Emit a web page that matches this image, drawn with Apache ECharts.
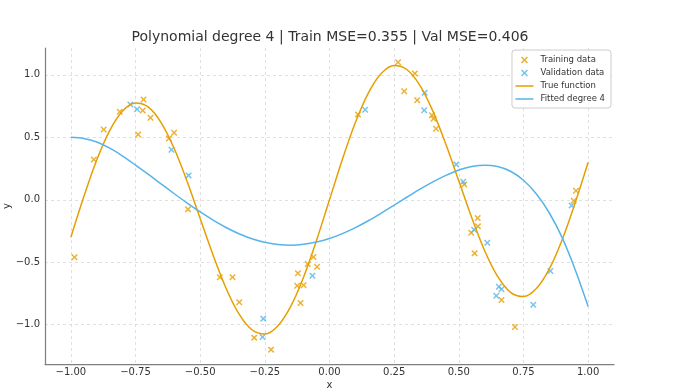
<!DOCTYPE html>
<html>
<head>
<meta charset="utf-8">
<script src="https://cdn.jsdelivr.net/npm/echarts@6/dist/echarts.min.js"></script>
<style>html,body{margin:0;padding:0;background:#fff}#c{width:680px;height:390px}</style>
</head>
<body>
<div id="c"></div>
<script>
const titleText = 'Polynomial degree 4 | Train MSE=0.355 | Val MSE=0.406';
const trainX = [-0.986,-0.911,-0.873,-0.811,-0.740,-0.722,-0.719,-0.692,-0.621,-0.601,-0.547,-0.424,-0.375,-0.349,-0.291,-0.226,-0.125,-0.122,-0.112,-0.100,-0.084,-0.062,-0.048,0.110,0.265,0.289,0.330,0.339,0.396,0.402,0.412,0.521,0.548,0.561,0.573,0.574,0.665,0.717,0.944,0.953];
const trainY = [-0.461,0.322,0.563,0.704,0.523,0.715,0.802,0.656,0.491,0.536,-0.077,-0.621,-0.621,-0.821,-1.104,-1.200,-0.688,-0.589,-0.827,-0.685,-0.515,-0.459,-0.536,0.683,1.101,0.869,1.011,0.797,0.677,0.648,0.568,0.123,-0.264,-0.429,-0.147,-0.213,-0.803,-1.019,-0.008,0.072];
const valX = [-0.770,-0.744,-0.611,-0.545,-0.259,-0.256,-0.066,0.138,0.368,0.366,0.490,0.517,0.559,0.610,0.645,0.655,0.665,0.788,0.854,0.936];
const valY = [0.763,0.725,0.400,0.195,-1.099,-0.952,-0.608,0.720,0.856,0.717,0.283,0.144,-0.240,-0.344,-0.768,-0.696,-0.717,-0.840,-0.571,-0.046];
const curveX = [-1.00,-0.95,-0.90,-0.85,-0.80,-0.75,-0.70,-0.65,-0.60,-0.55,-0.50,-0.45,-0.40,-0.35,-0.30,-0.25,-0.20,-0.15,-0.10,-0.05,0.00,0.05,0.10,0.15,0.20,0.25,0.30,0.35,0.40,0.45,0.50,0.55,0.60,0.65,0.70,0.75,0.80,0.85,0.90,0.95,1.00];
const trueY = [-0.300,0.024,0.318,0.554,0.711,0.775,0.741,0.614,0.408,0.144,-0.150,-0.444,-0.708,-0.914,-1.041,-1.075,-1.011,-0.854,-0.618,-0.324,0.000,0.324,0.618,0.854,1.011,1.075,1.041,0.914,0.708,0.444,0.150,-0.144,-0.408,-0.614,-0.741,-0.775,-0.711,-0.554,-0.318,-0.024,0.300];
const fitY = [0.500,0.490,0.462,0.413,0.350,0.278,0.203,0.125,0.048,-0.027,-0.098,-0.163,-0.222,-0.272,-0.312,-0.341,-0.358,-0.364,-0.357,-0.339,-0.310,-0.271,-0.223,-0.168,-0.107,-0.043,0.022,0.085,0.143,0.195,0.238,0.266,0.277,0.266,0.228,0.156,0.046,-0.106,-0.305,-0.560,-0.855];
const xTicks = [-1.0,-0.75,-0.5,-0.25,0.0,0.25,0.5,0.75,1.0];
const yTicks = [-1.0,-0.5,0.0,0.5,1.0];

const ORANGE = '#E69F00', BLUE = '#56B4E9';
const FONT = 'DejaVu Sans';
const XSYM = 'path://M0,1.6 L1.6,0 L5,3.4 L8.4,0 L10,1.6 L6.6,5 L10,8.4 L8.4,10 L5,6.6 L1.6,10 L0,8.4 L3.4,5 Z';
const LSYM = 'path://M0,0 L18,0 L18,1.5 L0,1.5 Z';
const fmt = d => v => (v < 0 ? '\u2212' : '') + Math.abs(v).toFixed(d);
const zip = (a, b) => a.map((v, i) => [v, b[i]]);

const chart = echarts.init(document.getElementById('c'), null, {renderer: 'canvas'});
const axisCommon = {
  axisLine: {show: true, onZero: false, lineStyle: {color: '#808080', width: 1.25}},
  splitLine: {show: true, lineStyle: {color: '#d8d8d8', type: [3, 3], width: 0.8}},
};
chart.setOption({
  animation: false,
  backgroundColor: '#fff',
  title: {text: titleText, left: 330, top: 30, padding: 0, textAlign: 'center',
    textStyle: {fontFamily: FONT, fontSize: 14, fontWeight: 'normal', color: '#333'}},
  grid: {left: 45, right: 66, top: 48, bottom: 26, containLabel: false, outerBoundsMode: 'none'},
  legend: {
    orient: 'vertical', right: 69, top: 50, itemGap: 3, itemWidth: 18, itemHeight: 7,
    symbolKeepAspect: true,
    textStyle: {fontFamily: FONT, fontSize: 8.5, lineHeight: 10, color: '#333', padding: [0, 0, 0, 2]},
    borderColor: '#cccccc', borderWidth: 1, borderRadius: 3, padding: [5, 6, 4, 3.5],
    backgroundColor: 'rgba(255,255,255,0.85)',
    data: [
      {name: 'Training data', icon: XSYM},
      {name: 'Validation data', icon: XSYM},
      {name: 'True function', icon: LSYM},
      {name: 'Fitted degree 4', icon: LSYM}
    ]
  },
  xAxis: Object.assign({
    type: 'value', min: -1.1, max: 1.1,
    name: 'x', nameLocation: 'middle', nameGap: 16, nameMoveOverlap: false,
    nameTextStyle: {fontFamily: FONT, fontSize: 10, color: '#333'},
    axisTick: {show: false, customValues: xTicks},
    axisLabel: {customValues: xTicks, formatter: fmt(2), fontFamily: FONT, fontSize: 10, color: '#333', margin: 3}
  }, axisCommon),
  yAxis: Object.assign({
    type: 'value', min: -1.315, max: 1.215,
    name: 'y', nameLocation: 'middle', nameGap: 33, nameMoveOverlap: false,
    nameTextStyle: {fontFamily: FONT, fontSize: 10, color: '#333'},
    axisTick: {show: false, customValues: yTicks},
    axisLabel: {customValues: yTicks, formatter: fmt(1), fontFamily: FONT, fontSize: 10, color: '#333', margin: 5}
  }, axisCommon),
  series: [
    {name: 'Training data', type: 'scatter', data: zip(trainX, trainY), symbol: XSYM, symbolSize: 6.5,
      itemStyle: {color: ORANGE}},
    {name: 'Validation data', type: 'scatter', data: zip(valX, valY), symbol: XSYM, symbolSize: 6.5,
      itemStyle: {color: BLUE}},
    {name: 'True function', type: 'line', data: zip(curveX, trueY), smooth: 0.35, symbol: 'none', showSymbol: false,
      lineStyle: {color: ORANGE, width: 1.5}, itemStyle: {color: ORANGE}},
    {name: 'Fitted degree 4', type: 'line', data: zip(curveX, fitY), smooth: 0.35, symbol: 'none', showSymbol: false,
      lineStyle: {color: BLUE, width: 1.5}, itemStyle: {color: BLUE}}
  ]
});
</script>
</body>
</html>
